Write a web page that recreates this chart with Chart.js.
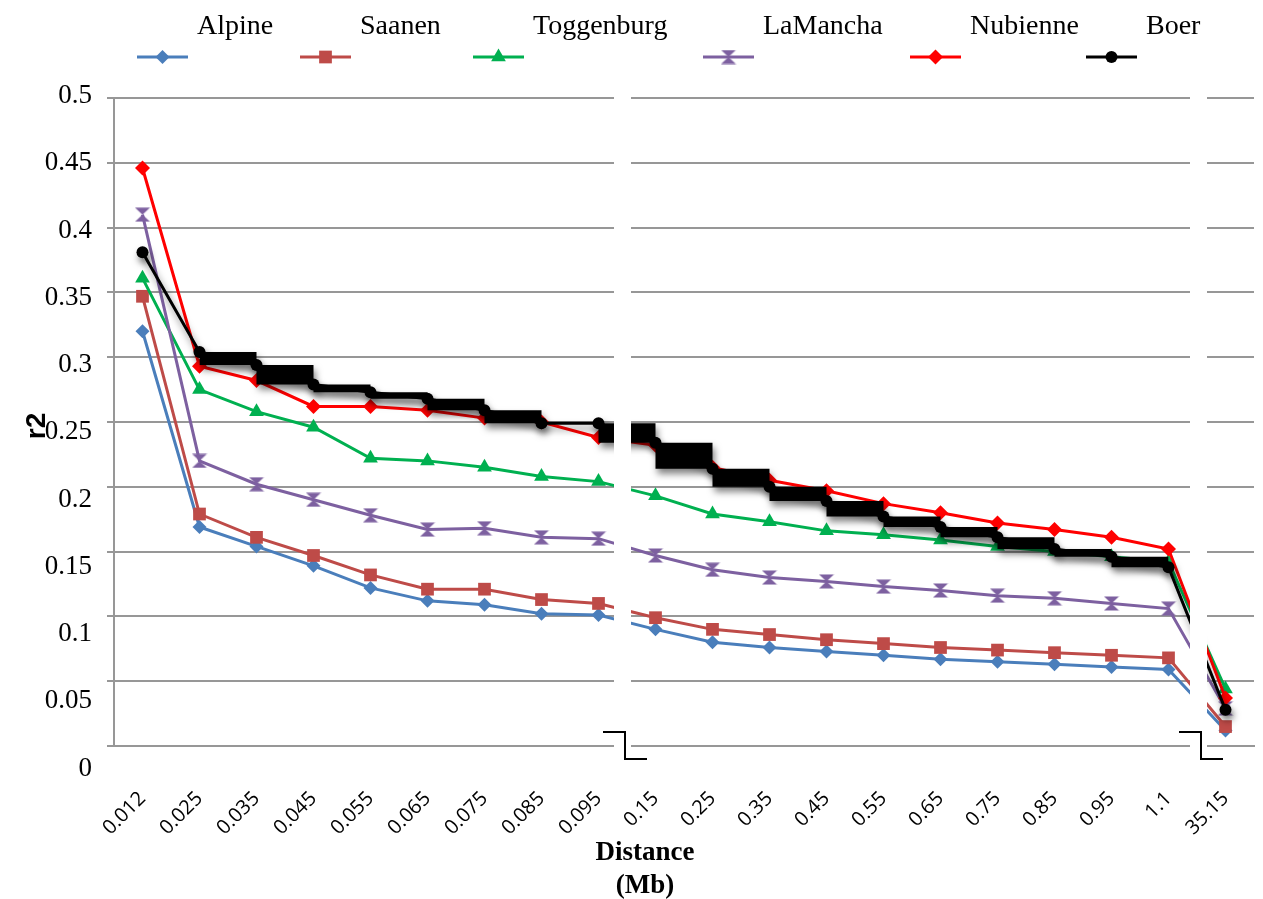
<!DOCTYPE html>
<html>
<head>
<meta charset="utf-8">
<script src="https://cdn.jsdelivr.net/npm/chart.js@4.4.1/dist/chart.umd.min.js"></script>
<style>
  html,body{margin:0;padding:0;background:#fff;}
  #wrap{width:1263px;height:899px;}
</style>
</head>
<body>
<div id="wrap"><canvas id="c" width="1263" height="899"></canvas></div>
<script>
// distance classes (Mb)
const dist = ['0.012','0.025','0.035','0.045','0.055','0.065','0.075','0.085','0.095',
  '0.15','0.25','0.35','0.45','0.55','0.65','0.75','0.85','0.95','1.1','35.15'];

const alpine     = [0.320,0.169,0.154,0.139,0.122,0.112,0.109,0.102,0.101,0.090,0.080,0.076,0.073,0.070,0.067,0.065,0.063,0.061,0.059,0.012];
const saanen     = [0.347,0.179,0.161,0.147,0.132,0.121,0.121,0.113,0.110,0.099,0.090,0.086,0.082,0.079,0.076,0.074,0.072,0.070,0.068,0.015];
const toggenburg = [0.361,0.275,0.258,0.246,0.222,0.220,0.215,0.208,0.204,0.193,0.179,0.173,0.166,0.163,0.159,0.154,0.150,0.146,0.142,0.044];
const lamancha   = [0.410,0.220,0.202,0.190,0.178,0.167,0.168,0.161,0.160,0.147,0.136,0.130,0.127,0.123,0.120,0.116,0.114,0.110,0.106,0.029];
const nubienne   = [0.446,0.293,0.282,0.262,0.262,0.259,0.253,0.250,0.238,0.232,0.215,0.205,0.197,0.187,0.180,0.172,0.167,0.161,0.152,0.037];
const boer       = [0.381,0.304,0.294,0.279,0.273,0.268,0.259,0.249,0.249,0.234,0.214,0.200,0.189,0.177,0.169,0.161,0.152,0.146,0.138,0.028];

const yTicks = [0,0.05,0.1,0.15,0.2,0.25,0.3,0.35,0.4,0.45,0.5];
const yTickLabels = ['0','0.05','0.1','0.15','0.2','0.25','0.3','0.35','0.4','0.45','0.5'];

// the two axis breaks sit after these category indexes
const breaks = [{after:8, shift:-2}, {after:18, shift:4}];

const SERIF = '"Liberation Serif", "Times New Roman", serif';
const GRID = '#979797';

// purple LaMancha marker: filled hourglass
function hourglass(color){
  const c = document.createElement('canvas'); c.width = 16; c.height = 15;
  const g = c.getContext('2d'); g.fillStyle = color;
  g.beginPath(); g.moveTo(0.5,0.5); g.lineTo(15.5,0.5); g.lineTo(8,7.5); g.closePath(); g.fill();
  g.beginPath(); g.moveTo(0.5,14.5); g.lineTo(15.5,14.5); g.lineTo(8,7.5); g.closePath(); g.fill();
  return c;
}

const series = [
  {label:'Alpine',     data:alpine,     color:'#4A7EBB', style:'rectRot',  r:7,   order:7},
  {label:'Saanen',     data:saanen,     color:'#BE4B48', style:'rect',     r:9,   order:6},
  {label:'Toggenburg', data:toggenburg, color:'#00B050', style:'triangle', r:8.5, order:5},
  {label:'LaMancha',   data:lamancha,   color:'#7D60A0', style:hourglass('#7D60A0'), r:8, order:4},
  {label:'Nubienne',   data:nubienne,   color:'#FF0000', style:'rectRot',  r:7.5, order:3},
];

const line = s => ({
  label:s.label, data:s.data, order:s.order,
  borderColor:s.color, backgroundColor:s.color, borderWidth:3,
  pointStyle:s.style, pointRadius:s.r, pointBorderWidth:0,
  pointBackgroundColor:s.color, fill:false, tension:0
});

// Boer: the stepped blocks between consecutive points (inner points only)
const boerInner = boer.map((v,i)=> (i===0 || i===boer.length-1) ? null : v);

const datasets = series.map(line);
const STEP_A = datasets.length;
datasets.push({label:'_stepA', data:boerInner, stepped:'after', order:2,
  borderColor:'rgba(0,0,0,0)', borderWidth:1, pointRadius:0, fill:false});
datasets.push({label:'_stepB', data:boerInner, stepped:'before', order:1,
  borderColor:'rgba(0,0,0,0)', borderWidth:1, pointRadius:0, fill:'-1', backgroundColor:'#000'});
const BOER = datasets.length;
datasets.push({label:'Boer', data:boer, order:0, borderColor:'#000', backgroundColor:'#000',
  borderWidth:3, pointStyle:'circle', pointRadius:6, pointBorderWidth:0, fill:false, tension:0});

const legendItems = [
  {i:0, x:137}, {i:1, x:300}, {i:2, x:473}, {i:3, x:703}, {i:4, x:910}, {i:BOER, x:1086}
];

const deco = {
  id:'deco',
  afterDatasetDraw(chart, args){
    const ctx = chart.ctx;
    if(args.index === STEP_A){
      ctx.save();
      ctx.shadowColor = 'rgba(0,0,0,0.5)';
      ctx.shadowBlur = 7; ctx.shadowOffsetX = 2; ctx.shadowOffsetY = 5;
    }
    if(args.index === BOER) ctx.restore();
  },
  afterDatasetsDraw(chart){
    const {ctx, chartArea:a} = chart, xs = chart.scales.x;
    breaks.forEach(b=>{
      const c = (xs.getPixelForValue(b.after) + xs.getPixelForValue(b.after+1))/2 + b.shift;
      ctx.save();
      ctx.fillStyle = '#fff';
      ctx.fillRect(c-11, a.top-3, 17, a.bottom-a.top+5);
      ctx.strokeStyle = '#000'; ctx.lineWidth = 2;
      ctx.beginPath();
      ctx.moveTo(c-22, a.bottom-14); ctx.lineTo(c, a.bottom-14);
      ctx.lineTo(c, a.bottom+13); ctx.lineTo(c+22, a.bottom+13);
      ctx.stroke();
      ctx.restore();
    });
  },
  afterDraw(chart){
    const {ctx} = chart, ys = chart.scales.y;
    ctx.save();
    // y tick labels (spaced slightly wider than the gridlines, as in the source)
    const yTop = ys.getPixelForValue(0.5);
    ctx.font = '27px ' + SERIF; ctx.fillStyle = '#000';
    ctx.textAlign = 'right'; ctx.textBaseline = 'middle';
    yTicks.forEach((v,k)=>{
      const g = ys.getPixelForValue(v);
      ctx.fillText(yTickLabels[k], 92, g + (g - yTop)*0.038 - 2);
    });
    // axis titles
    ctx.font = 'bold 27px ' + SERIF; ctx.textAlign = 'center';
    ctx.fillText('Distance', 645, 853);
    ctx.fillText('(Mb)', 645, 886);
    ctx.save();
    ctx.translate(37, 426); ctx.rotate(-Math.PI/2);
    ctx.font = 'bold 28px "Liberation Sans", Arial, sans-serif';
    ctx.fillText('r2', 0, 0);
    ctx.restore();
    // legend: symbol row below, names above and to the right
    ctx.font = '28px ' + SERIF; ctx.textAlign = 'left';
    legendItems.forEach(it=>{
      const ds = chart.data.datasets[it.i];
      ctx.strokeStyle = ds.borderColor; ctx.lineWidth = 3;
      ctx.beginPath(); ctx.moveTo(it.x, 57); ctx.lineTo(it.x+51, 57); ctx.stroke();
      ctx.fillStyle = ds.backgroundColor;
      Chart.helpers.drawPoint(ctx, {pointStyle:ds.pointStyle, rotation:0, radius:ds.pointRadius, borderWidth:0}, it.x+25.5, 57);
      ctx.fillStyle = '#000';
      ctx.fillText(ds.label, it.x+60, 27);
    });
    ctx.restore();
  }
};

new Chart(document.getElementById('c'), {
  type:'line',
  data:{ labels:dist, datasets },
  plugins:[deco],
  options:{
    responsive:false, animation:false, events:[],
    layout:{ padding:{ top:98, right:9, bottom:0, left:0 } },
    plugins:{ legend:{display:false}, tooltip:{enabled:false}, title:{display:false} },
    scales:{
      x:{
        offset:true,
        grid:{ display:false },
        border:{ display:true, color:GRID, width:2 },
        ticks:{ autoSkip:false, minRotation:45, maxRotation:45, padding:33,
                color:'#000', font:{ family:'"Open Sans", sans-serif', size:20 } },
        afterFit(s){ s.height = 153; s.paddingLeft = 0; s.paddingRight = 0; }
      },
      y:{
        min:0, max:0.5,
        grid:{ color:GRID, lineWidth:2, tickLength:7 },
        border:{ display:true, color:GRID, width:2 },
        ticks:{ stepSize:0.05, display:false },
        afterFit(s){ s.width = 114; s.paddingTop = 0; s.paddingBottom = 0; }
      }
    }
  }
});
</script>
</body>
</html>
